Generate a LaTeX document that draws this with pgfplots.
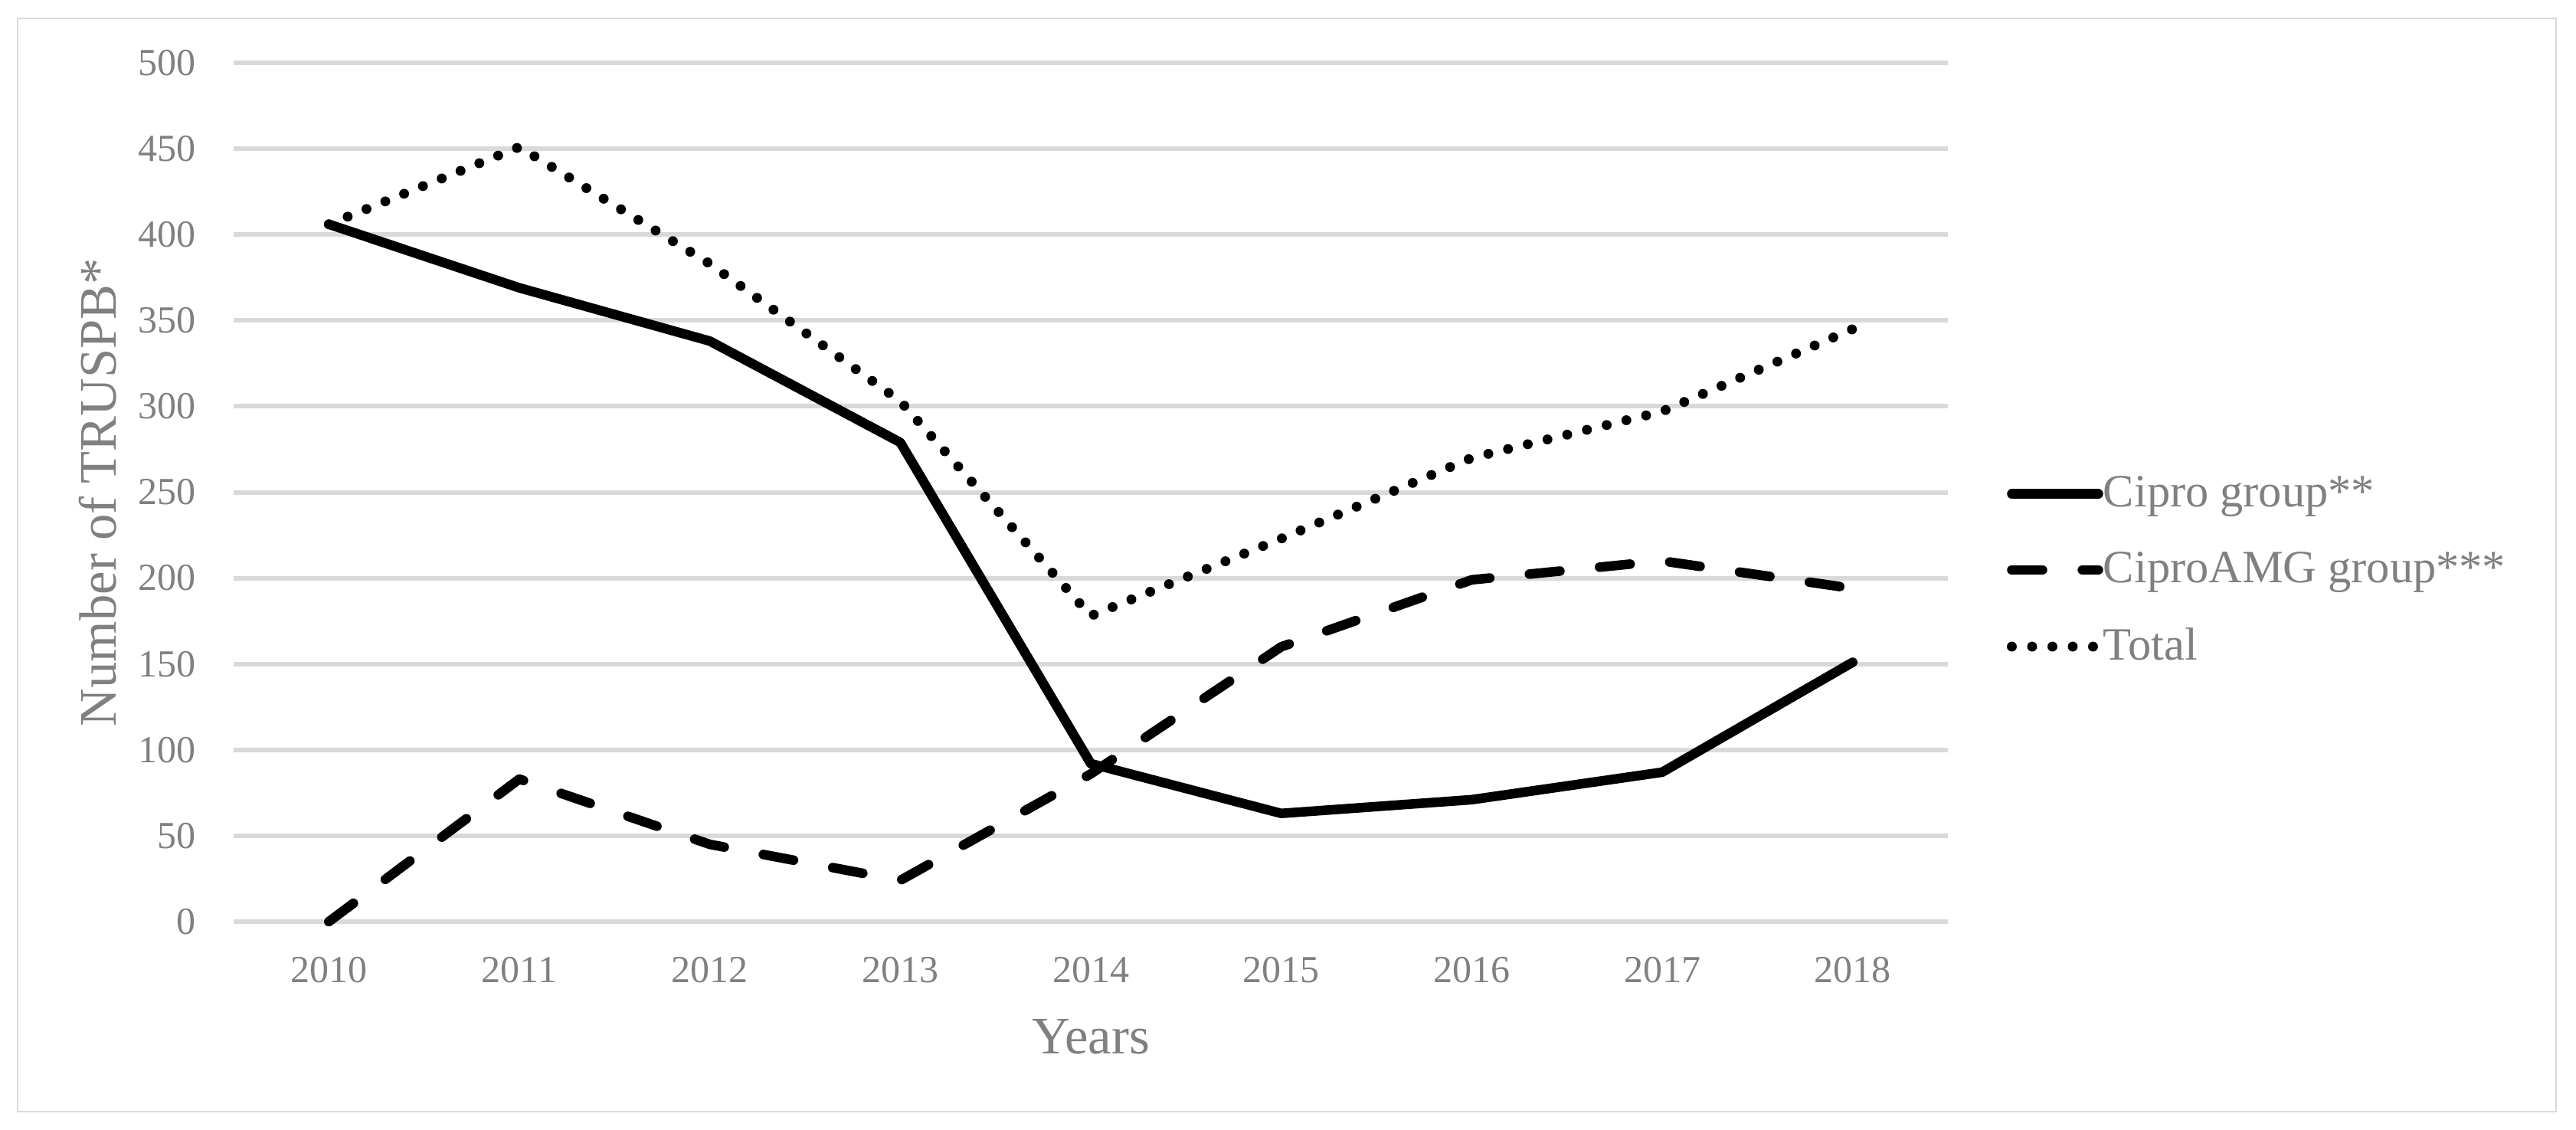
\documentclass[border=0pt]{standalone}
\usepackage{fontspec}
\setmainfont{Liberation Serif}
\usepackage{pgfplots}
\pgfplotsset{compat=1.18}
\definecolor{txtgray}{RGB}{128,128,128}
\definecolor{gridgray}{RGB}{217,217,217}
\begin{document}
\begin{tikzpicture}[x=1bp,y=1bp]
\useasboundingbox (0,0) rectangle (807.12,353.76);
\draw[gridgray, line width=0.65bp] (5.52,5.52) rectangle (800.88,348.0);
\begin{axis}[
  at={(73.2bp,65.04bp)}, anchor=south west,
  scale only axis, width=537.12bp, height=269.04bp,
  xmin=-0.5, xmax=8.5, ymin=0, ymax=500,
  clip=false,
  /pgf/number format/assume math mode=true,
  xtick={0,1,2,3,4,5,6,7,8},
  xticklabels={2010,2011,2012,2013,2014,2015,2016,2017,2018},
  ytick={0,50,100,150,200,250,300,350,400,450,500},
  ymajorgrids,
  major grid style={line width=1.44bp, color=gridgray},
  axis line style={draw=none},
  tick style={draw=none},
  major tick length=0pt,
  ticklabel style={font=\fontsize{12bp}{14bp}\selectfont, text=txtgray},
  yticklabel style={anchor=east, inner sep=0pt, xshift=-11.76bp},
  xticklabel style={anchor=north, inner sep=0pt, yshift=-10.8bp},
  xlabel={Years},
  ylabel={Number of TRUSPB*},
  every axis x label/.style={at={(axis description cs:0.5,0)}, anchor=north, yshift=-30.5bp, inner sep=0pt, font=\fontsize{16.5bp}{18bp}\selectfont, text=txtgray},
  every axis y label/.style={at={(axis description cs:-0.0906,0.5)}, rotate=90, anchor=north, inner sep=0pt, font=\fontsize{16.5bp}{18bp}\selectfont, text=txtgray},
  legend cell align=left,
  legend image code/.code={\draw[#1] (0bp,0bp) -- (27.12bp,0bp);},
  legend style={at={(1.0344,0.4087)}, anchor=west, draw=none, fill=none,
    inner sep=0pt, outer sep=0pt, row sep=12.7bp, column sep=0bp,
    font=\fontsize{14.5bp}{16bp}\selectfont, text=txtgray,
    nodes={inner sep=0pt}},
]
\addplot[black, line width=3bp, line join=round, line cap=round]
  coordinates {(0,406)(1,369)(2,338)(3,279)(4,92)(5,63)(6,71)(7,87)(8,151)};
\addlegendentry{Cipro group**}
\addplot[black, line width=3bp, line join=round, line cap=round, dash pattern=on 9.6bp off 12.5bp]
  coordinates {(0,0)(1,83)(2,45)(3,24)(4,86)(5,160)(6,199)(7,210)(8,194)};
\addlegendentry{CiproAMG group***}
\addplot[black, line width=3.1bp, line join=round, line cap=round, dash pattern=on 0bp off 6.36bp]
  coordinates {(0,406)(1,451)(2,383)(3,303)(4,178)(5,223)(6,270)(7,297)(8,345)};
\addlegendentry{Total}
\end{axis}
\end{tikzpicture}
\end{document}
